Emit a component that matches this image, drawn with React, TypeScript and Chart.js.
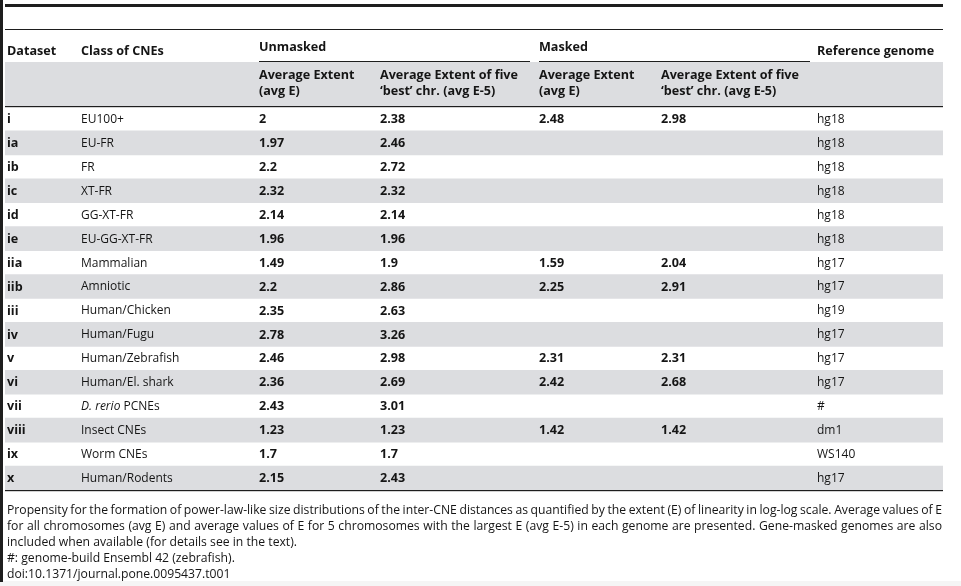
import React, { useEffect, useRef } from 'react';
import { Chart, registerables } from 'chart.js';

Chart.register(...registerables);

// ---- Table data ----
const datasetIds = ['i', 'ia', 'ib', 'ic', 'id', 'ie', 'iia', 'iib', 'iii', 'iv', 'v', 'vi', 'vii', 'viii', 'ix', 'x'];
const cneClasses = ['EU100+', 'EU-FR', 'FR', 'XT-FR', 'GG-XT-FR', 'EU-GG-XT-FR', 'Mammalian', 'Amniotic', 'Human/Chicken', 'Human/Fugu', 'Human/Zebrafish', 'Human/El. shark', '*D. rerio* PCNEs', 'Insect CNEs', 'Worm CNEs', 'Human/Rodents'];
const unmaskedAvgE = [2, 1.97, 2.2, 2.32, 2.14, 1.96, 1.49, 2.2, 2.35, 2.78, 2.46, 2.36, 2.43, 1.23, 1.7, 2.15];
const unmaskedAvgE5 = [2.38, 2.46, 2.72, 2.32, 2.14, 1.96, 1.9, 2.86, 2.63, 3.26, 2.98, 2.69, 3.01, 1.23, 1.7, 2.43];
const maskedAvgE = [2.48, null, null, null, null, null, 1.59, 2.25, null, null, 2.31, 2.42, null, 1.42, null, null];
const maskedAvgE5 = [2.98, null, null, null, null, null, 2.04, 2.91, null, null, 2.31, 2.68, null, 1.42, null, null];
const refGenomes = ['hg18', 'hg18', 'hg18', 'hg18', 'hg18', 'hg18', 'hg17', 'hg17', 'hg19', 'hg17', 'hg17', 'hg17', '#', 'dm1', 'WS140', 'hg17'];

const headerTop = ['Dataset', 'Class of CNEs', 'Unmasked', 'Masked', 'Reference genome'];
const subHeaderLine1 = ['Average Extent', 'Average Extent of five', 'Average Extent', 'Average Extent of five'];
const subHeaderLine2 = ['(avg E)', '\u2018best\u2019 chr. (avg E-5)', '(avg E)', '\u2018best\u2019 chr. (avg E-5)'];

const captionLines = [
  'Propensity for the formation of power-law-like size distributions of the inter-CNE distances as quantified by the extent (E) of linearity in log-log scale. Average values of E',
  'for all chromosomes (avg E) and average values of E for 5 chromosomes with the largest E (avg E-5) in each genome are presented. Gene-masked genomes are also',
  'included when available (for details see in the text).',
  '#: genome-build Ensembl 42 (zebrafish).',
  'doi:10.1371/journal.pone.0095437.t001',
];
const captionJustified = [true, true, false, false, false];

// ---- Styles / layout ----
const FONT = '"Open Sans", "Noto Sans", sans-serif';
const TEXT = '#151515';
const STRIPE = '#dcdde0';
const COL_X = { id: 7, cls: 81, u1: 259, u2: 380, m1: 539, m2: 661, ref: 817 };
const BOLD = `700 12.6px ${FONT}`;
const REG = `400 12px ${FONT}`;
const ITAL = `italic 400 12px ${FONT}`;
const CAP = `400 12.2px ${FONT}`;

function fmt(v: number | null) {
  return v === null ? '' : String(v);
}

function drawJustified(ctx: CanvasRenderingContext2D, text: string, x: number, y: number, width: number) {
  const words = text.split(' ');
  const widths = words.map((w) => ctx.measureText(w).width);
  const total = widths.reduce((a, b) => a + b, 0);
  const gap = (width - total) / (words.length - 1);
  if (gap < 2) {
    ctx.fillText(text, x, y, width);
    return;
  }
  let cx = x;
  words.forEach((w, i) => {
    ctx.fillText(w, cx, y);
    cx += widths[i] + gap;
  });
}

function drawClass(ctx: CanvasRenderingContext2D, label: string, x: number, y: number) {
  const m = label.match(/^\*(.+)\*(.*)$/);
  if (m) {
    ctx.font = ITAL;
    ctx.fillText(m[1], x, y);
    const w = ctx.measureText(m[1]).width;
    ctx.font = REG;
    ctx.fillText(m[2], x + w, y);
  } else {
    ctx.font = REG;
    ctx.fillText(label, x, y);
  }
}

const stripeData = datasetIds.map((_, i) => (i % 2 === 1 ? 1 : null));

export default function App() {
  const ref = useRef<HTMLCanvasElement>(null);

  useEffect(() => {
    document.body.style.margin = '0';
    const canvas = ref.current;
    if (!canvas) return;
    let chart: Chart | null = null;
    let cancelled = false;

    const tablePlugin = {
      id: 'tablePlugin',
      beforeDraw(c: any) {
        const ctx: CanvasRenderingContext2D = c.ctx;
        const { left, right } = c.chartArea;
        ctx.save();
        ctx.fillStyle = '#ffffff';
        ctx.fillRect(0, 0, c.width, c.height);
        ctx.fillStyle = '#f5f5f5';
        ctx.fillRect(0, 581, c.width, c.height - 581);
        ctx.fillStyle = '#1e1e1e';
        ctx.fillRect(0, 0, 3, 582);
        ctx.fillStyle = STRIPE;
        ctx.fillRect(left, 62, right - left, 44);
        ctx.restore();
      },
      afterDraw(c: any) {
        const ctx: CanvasRenderingContext2D = c.ctx;
        const y = c.scales.y;
        const { left, right, bottom } = c.chartArea;
        ctx.save();
        ctx.fillStyle = '#1e1e1e';
        ctx.fillRect(left, 4, right - left, 3);
        ctx.fillRect(left, 29, right - left, 1);
        ctx.fillRect(COL_X.u1, 61, 271, 1);
        ctx.fillRect(COL_X.m1, 61, 271, 1);
        ctx.fillRect(left, 106, right - left, 1.2);
        ctx.fillRect(left, bottom, right - left, 1.2);

        ctx.fillStyle = TEXT;
        ctx.textBaseline = 'middle';
        ctx.textAlign = 'left';
        ctx.font = BOLD;
        ctx.fillText(headerTop[0], COL_X.id, 51.5);
        ctx.fillText(headerTop[1], COL_X.cls, 51.5);
        ctx.fillText(headerTop[2], COL_X.u1, 47);
        ctx.fillText(headerTop[3], COL_X.m1, 47);
        ctx.fillText(headerTop[4], COL_X.ref, 51.5);
        const subX = [COL_X.u1, COL_X.u2, COL_X.m1, COL_X.m2];
        subX.forEach((x, i) => {
          ctx.fillText(subHeaderLine1[i], x, 75.5);
          ctx.fillText(subHeaderLine2[i], x, 91.5);
        });

        datasetIds.forEach((id, i) => {
          const py = y.getPixelForValue(i) + 0.5;
          ctx.font = BOLD;
          ctx.fillText(id, COL_X.id, py);
          ctx.fillText(fmt(unmaskedAvgE[i]), COL_X.u1, py);
          ctx.fillText(fmt(unmaskedAvgE5[i]), COL_X.u2, py);
          ctx.fillText(fmt(maskedAvgE[i]), COL_X.m1, py);
          ctx.fillText(fmt(maskedAvgE5[i]), COL_X.m2, py);
          drawClass(ctx, cneClasses[i], COL_X.cls, py);
          ctx.font = REG;
          ctx.fillText(refGenomes[i], COL_X.ref, py);
        });

        ctx.font = CAP;
        captionLines.forEach((line, i) => {
          const ly = 511 + i * 15.8;
          if (captionJustified[i]) drawJustified(ctx, line, 7, ly, 935);
          else ctx.fillText(line, 7, ly);
        });
        ctx.restore();
      },
    };

    const build = () => {
      if (cancelled) return;
      chart = new Chart(canvas, {
        type: 'bar',
        data: {
          labels: datasetIds,
          datasets: [
            {
              data: stripeData as any,
              backgroundColor: STRIPE,
              borderWidth: 0,
              barPercentage: 1,
              categoryPercentage: 1,
            },
          ],
        },
        options: {
          indexAxis: 'y',
          responsive: false,
          maintainAspectRatio: false,
          animation: false,
          events: [],
          layout: { padding: { top: 107, bottom: 96, left: 5, right: 18 } },
          plugins: { legend: { display: false }, tooltip: { enabled: false }, title: { display: false } },
          scales: {
            x: { type: 'linear', min: 0, max: 1, display: false },
            y: { type: 'category', display: false, offset: true, grid: { display: false } },
          },
        },
        plugins: [tablePlugin],
      });
    };

    const fontsApi = (document as any).fonts;
    if (fontsApi && fontsApi.load) {
      Promise.all([fontsApi.load(BOLD, 'Aa'), fontsApi.load(REG, 'Aa'), fontsApi.load(ITAL, 'Aa')])
        .catch(() => null)
        .then(build);
    } else {
      build();
    }
    return () => {
      cancelled = true;
      if (chart) chart.destroy();
    };
  }, []);

  return (
    <div style={{ position: 'absolute', left: 0, top: 0, width: 961, height: 586 }}>
      <canvas ref={ref} width={961} height={586} style={{ display: 'block' }} />
    </div>
  );
}
